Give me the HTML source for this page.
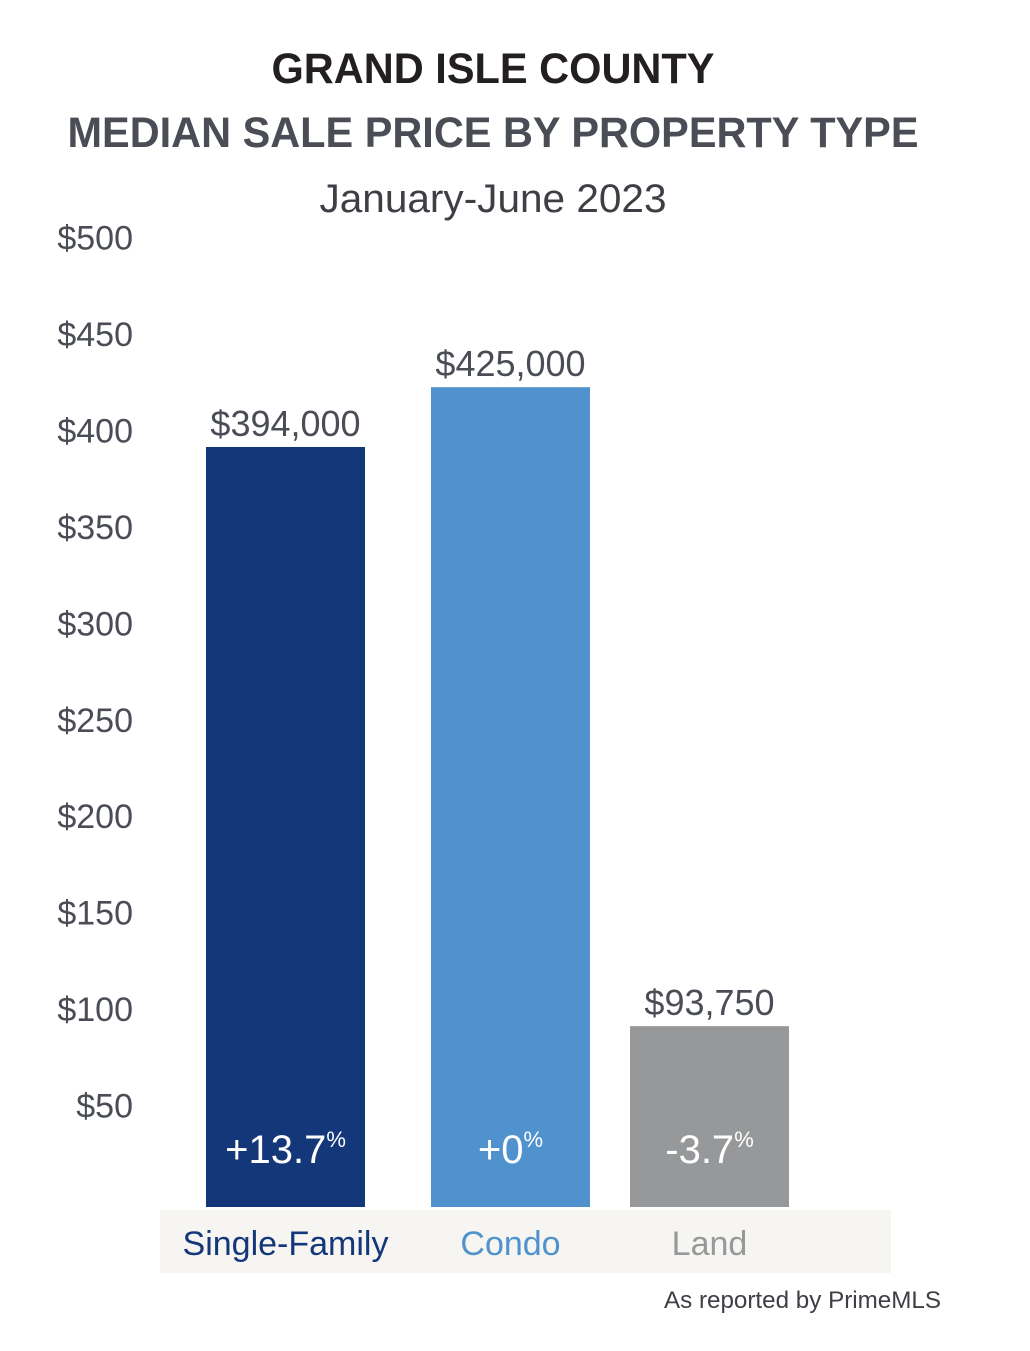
<!DOCTYPE html>
<html><head><meta charset="utf-8"><style>
html,body{margin:0;padding:0;background:#fff;}
svg{display:block;font-family:"Liberation Sans",sans-serif;}
</style></head><body>
<svg id="chart" width="1030" height="1351" viewBox="0 0 1030 1351">
<text x="493" y="83" text-anchor="middle" font-size="43" font-weight="bold" fill="#231f20" textLength="443" lengthAdjust="spacingAndGlyphs">GRAND ISLE COUNTY</text>
<text x="493" y="147" text-anchor="middle" font-size="43" font-weight="bold" fill="#4a4d55" textLength="851" lengthAdjust="spacingAndGlyphs">MEDIAN SALE PRICE BY PROPERTY TYPE</text>
<text x="493" y="212" text-anchor="middle" font-size="40" fill="#3d3f45" textLength="347" lengthAdjust="spacingAndGlyphs">January-June 2023</text>
<rect x="160" y="1210" width="731" height="63" fill="#f6f5f1"/>
<g id="yaxis"></g>
<g id="bars"></g>
<text x="941" y="1308" text-anchor="end" font-size="24" fill="#3d3f45" textLength="277" lengthAdjust="spacingAndGlyphs">As reported by PrimeMLS</text>
</svg>
<script>
const categories = ["Single-Family","Condo","Land"];
const values = [394000, 425000, 93750];
const valueLabels = ["$394,000","$425,000","$93,750"];
const changeLabels = ["+13.7","+0","-3.7"];
const ticks = [50,100,150,200,250,300,350,400,450,500];
const tickLabels = ["$50","$100","$150","$200","$250","$300","$350","$400","$450","$500"];

const NS="http://www.w3.org/2000/svg";
const baseY=1207, pxPerK=1.929;
const colors=["#14377a","#4f92cd","#97989a"];
const barX=[206,431,630], barW=159;
function yScale(v){return baseY - v/1000*pxPerK;}
function mk(tag,attrs,parent){const e=document.createElementNS(NS,tag);for(const k in attrs)e.setAttribute(k,attrs[k]);parent.appendChild(e);return e;}
const ya=document.getElementById('yaxis');
ticks.forEach((t,i)=>{
  const e=mk('text',{x:133,y:yScale(t*1000)+7,'text-anchor':'end','font-size':34,fill:'#4a4d55'},ya);
  
  
  e.textContent=tickLabels[i];
});
const bg=document.getElementById('bars');
values.forEach((v,i)=>{
  const top=yScale(v);
  const r=mk('rect',{x:barX[i],y:top,width:barW,height:baseY-top,fill:colors[i]},bg);
  
  
  const cx=barX[i]+barW/2;
  const vl=mk('text',{x:cx,y:top-11,'text-anchor':'middle','font-size':36,fill:'#4a4d55'},bg);
  
  
  vl.textContent=valueLabels[i];
  const cl=mk('text',{x:cx,y:1163,'text-anchor':'middle','font-size':40,fill:'#ffffff'},bg);
  
  
  cl.textContent=changeLabels[i];
  const sp=mk('tspan',{'font-size':22,dy:-16},cl);
  sp.textContent='%';
  const cat=mk('text',{x:cx,y:1255,'text-anchor':'middle','font-size':34,fill:colors[i]},bg);
  
  
  cat.textContent=categories[i];
});
</script>
</body></html>
